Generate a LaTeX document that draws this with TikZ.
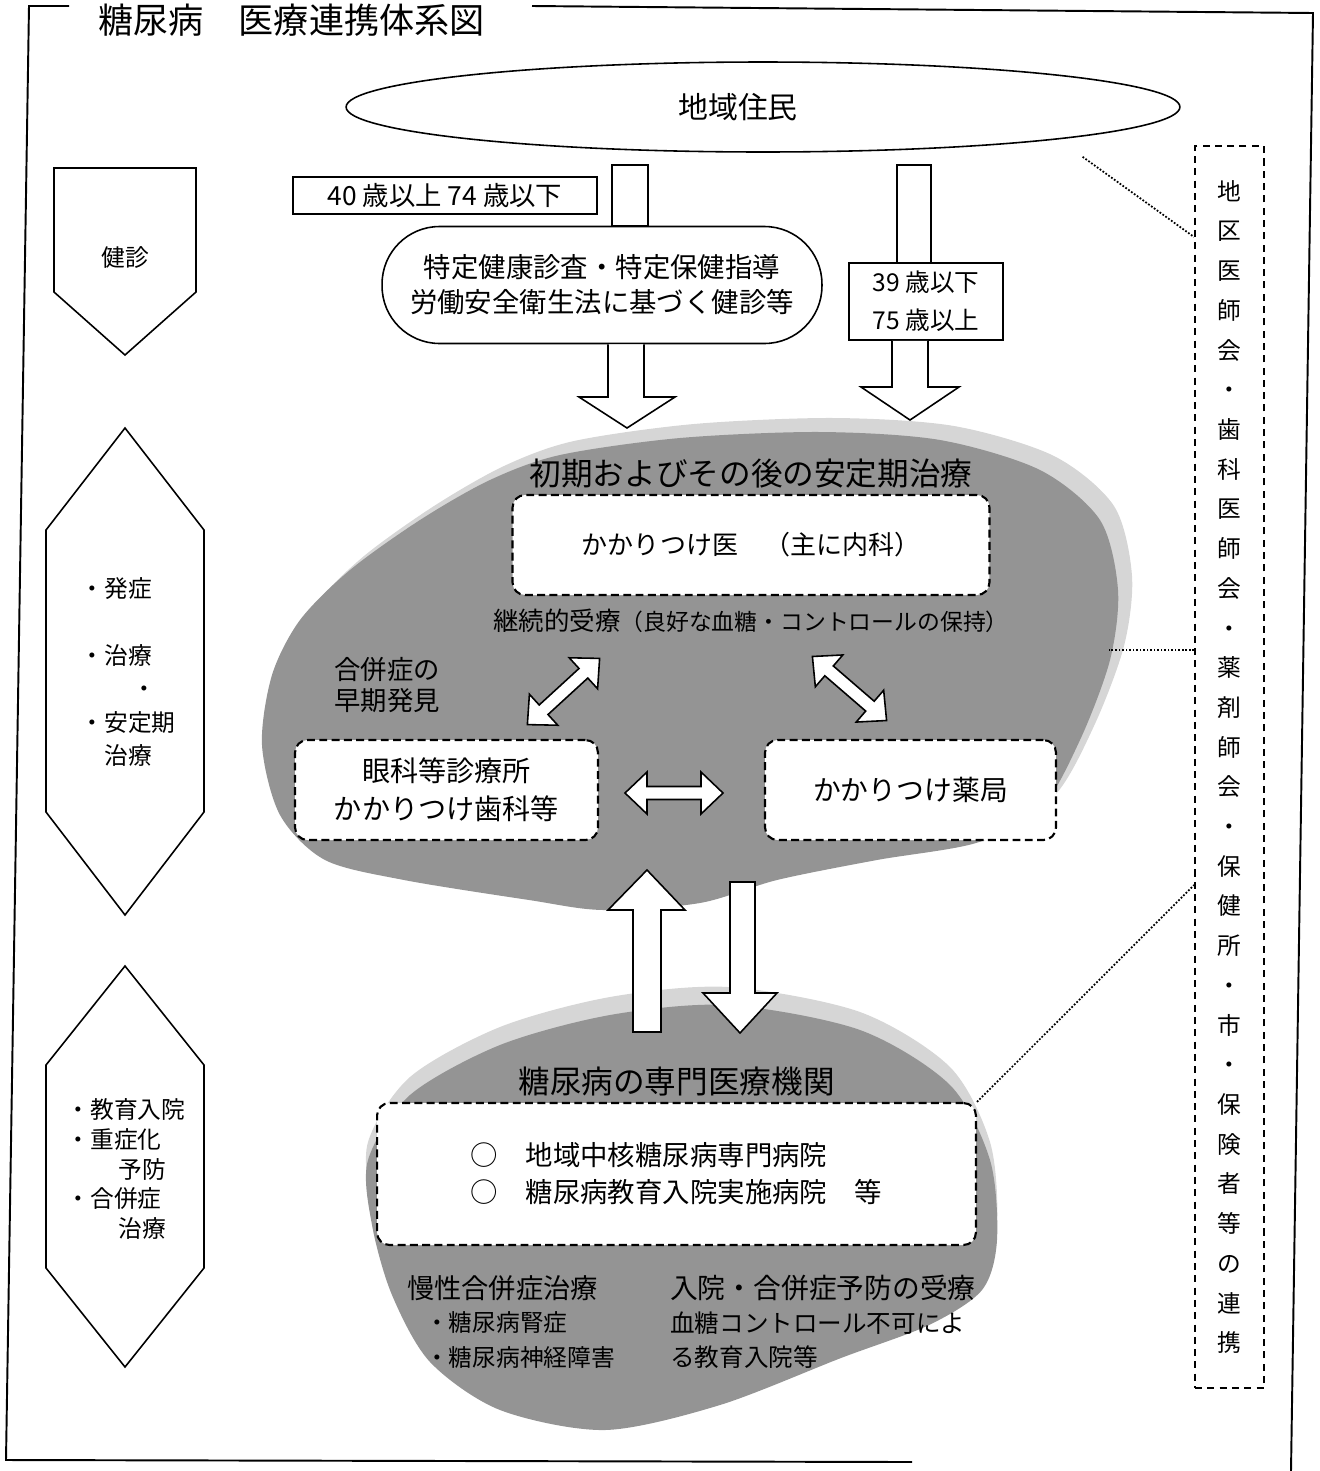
\documentclass[tikz,border=0pt]{standalone}
\usepackage{fontspec}
\setmainfont{Noto Sans CJK JP}
\usetikzlibrary{shapes, arrows, positioning}
\tikzstyle{waku} = [line width=1.1pt]
\tikzstyle{daen} = [draw, ellipse, line width=0.9pt, minimum width=16.68cm, minimum height=1.8cm, font=\fontsize{17}{20}\selectfont]
\tikzstyle{nenrei} = [draw, rectangle, line width=1.1pt, fill=white, align=center]
\tikzstyle{kapuseru} = [draw, rectangle, rounded corners=1.15cm, line width=0.9pt, fill=white, align=center, font=\fontsize{15.6}{19.9}\selectfont]
\tikzstyle{yajirushi} = [draw, fill=white, line width=0.9pt]
\tikzstyle{hako} = [draw, rectangle, rounded corners=0.25cm, dash pattern=on 4.5pt off 2.5pt, line width=1.2pt, fill=white, align=center]
\tikzstyle{midashi} = [font=\fontsize{18}{22}\selectfont]
\tikzstyle{kumo} = [fill=black!42]
\tikzstyle{kasumi} = [fill=black!16]
\tikzstyle{dankai} = [draw, line width=0.9pt, line join=miter]
\tikzstyle{dankaimoji} = [align=left, font=\fontsize{13.5}{17}\selectfont]
\tikzstyle{renkeisen} = [densely dotted, line width=1pt]
\newcommand{\ryoho}[2]{%
	\draw[yajirushi, shift={#1}, rotate=#2] (-49,0) -- (-27,-21) -- (-27,-6.5) -- (27,-6.5) -- (27,-21) -- (49,0) -- (27,21) -- (27,6.5) -- (-27,6.5) -- (-27,21) -- cycle;}

\begin{document}
\begin{tikzpicture}[x=0.02cm, y=-0.02cm]
	\useasboundingbox (0,0) rectangle (1319,1471);
	% gray areas
	\fill[kasumi, shift={(14,-14)}] plot[smooth cycle] coordinates {(560,455) (680,438) (820,432) (940,440) (1040,470) (1100,520) (1118,590) (1110,660) (1080,740) (1040,810) (976,843) (877,860) (777,880) (700,903) (603,910) (529,900) (404,880) (325,860) (280,815) (262,745) (272,675) (300,620) (350,570) (420,520) (490,480)};
	\fill[kumo] plot[smooth cycle] coordinates {(560,455) (680,438) (820,432) (940,440) (1040,470) (1100,520) (1118,590) (1110,660) (1080,740) (1040,810) (976,843) (877,860) (777,880) (700,903) (603,910) (529,900) (404,880) (325,860) (280,815) (262,745) (272,675) (300,620) (350,570) (420,520) (490,480)};
	\fill[kasumi, shift={(0,-18)}] plot[smooth cycle] coordinates {(728,1005) (860,1030) (950,1085) (990,1160) (997,1240) (982,1290) (929,1325) (841,1358) (720,1405) (605,1430) (500,1410) (430,1362) (392,1295) (372,1225) (368,1160) (410,1095) (500,1045) (610,1015)};
	\fill[kumo] plot[smooth cycle] coordinates {(728,1005) (860,1030) (950,1085) (990,1160) (997,1240) (982,1290) (929,1325) (841,1358) (720,1405) (605,1430) (500,1410) (430,1362) (392,1295) (372,1225) (368,1160) (410,1095) (500,1045) (610,1015)};

	% frame
	\draw[waku] (69,6) -- (29,6) -- (6,1460) -- (912,1462);
	\draw[waku] (532,6) -- (1313,13) -- (1291,1471);
	\node[anchor=west, font=\fontsize{20}{24}\selectfont] (daimei) at (92,20) {糖尿病　医療連携体系図};

	% left column
	\draw[dankai] (54,168) -- (196,168) -- (196,292) -- (125,355) -- (54,292) -- cycle;
	\node[dankaimoji] (kenshin) at (125,258) {健診};
	\draw[dankai] (125,428) -- (204,530) -- (204,812) -- (125,915) -- (46,812) -- (46,530) -- cycle;
	\node[dankaimoji, font=\fontsize{13.5}{19}\selectfont] (hassho) at (128,672) {・発症\\[19pt]・治療\\\hspace*{2.2em}・\\・安定期\\\hspace*{1em}治療};
	\draw[dankai] (125,966) -- (204,1065) -- (204,1268) -- (125,1367) -- (46,1268) -- (46,1065) -- cycle;
	\node[dankaimoji] (kyoiku) at (126,1169) {・教育入院\\・重症化\\\hspace*{2.2em}予防\\・合併症\\\hspace*{2.2em}治療};

	% kenshin
	\node[daen] (jumin) at (763,107) {地域住民\hspace*{1cm}};
	\node[nenrei, minimum width=6.08cm, minimum height=0.74cm, font=\fontsize{15}{18}\selectfont] (nenrei1) at (445,195.5) {40 歳以上 74 歳以下};
	\draw[yajirushi] (612,165) rectangle (648,226);
	\node[kapuseru, minimum width=8.8cm, minimum height=2.34cm] (tokutei) at (602,285) {特定健康診査・特定保健指導\\労働安全衛生法に基づく健診等};
	\draw[yajirushi] (608,0 |- tokutei.south) -- (608,397) -- (579,397) -- (627,428) -- (675,397) -- (644,397) -- (644,0 |- tokutei.south);
	\draw[yajirushi] (897,165) rectangle (931,263);
	\node[nenrei, minimum width=3.08cm, minimum height=1.54cm, font=\fontsize{14}{21.6}\selectfont] (nenrei2) at (926,301.5) {39 歳以下\\75 歳以上};
	\draw[yajirushi] (892,0 |- nenrei2.south) -- (892,387) -- (861,387) -- (910,420) -- (959,387) -- (928,387) -- (928,0 |- nenrei2.south);

	% antei
	\node[hako, minimum width=9.54cm, minimum height=2cm, font=\fontsize{14.8}{18}\selectfont] (kakari) at (751,545) {かかりつけ医　（主に内科）};
	\node[midashi, above=0pt] (shoki) at (kakari.north) {初期およびその後の安定期治療};
	\node[below=4pt] (keizoku) at (kakari.south) {{\fontsize{14.5}{17}\selectfont 継続的受療}{\fontsize{13}{15}\selectfont （良好な血糖・コントロールの保持）}};
	\node[align=center, font=\fontsize{15}{17.5}\selectfont] (gappei) at (387,685) {合併症の\\早期発見};
	\node[hako, minimum width=6.06cm, minimum height=2cm, font=\fontsize{16}{21.6}\selectfont] (ganka) at (446.5,790) {眼科等診療所\\かかりつけ歯科等};
	\node[hako, minimum width=5.82cm, minimum height=2cm, font=\fontsize{15.8}{19}\selectfont] (yakkyoku) at (910.5,790) {かかりつけ薬局};
	\ryoho{(563.5,691.5)}{42.5}
	\ryoho{(849.5,688.5)}{-40.8}
	\ryoho{(674,793)}{0}
	\draw[yajirushi] (633,1032) -- (633,910) -- (608,910) -- (647,870) -- (685,910) -- (661,910) -- (661,1032) -- cycle;
	\draw[yajirushi] (730,882) -- (730,993) -- (703,993) -- (740,1033) -- (777,993) -- (755,993) -- (755,882) -- cycle;

	% senmon
	\node[hako, minimum width=11.98cm, minimum height=2.84cm, align=left, font=\fontsize{15.6}{21}\selectfont] (senmon) at (676.5,1174) {○　地域中核糖尿病専門病院\\○　糖尿病教育入院実施病院　等};
	\node[midashi, above=0pt] (senmonmei) at (senmon.north) {糖尿病の専門医療機関};
	\node[anchor=west, font=\fontsize{15.5}{18}\selectfont] (mansei) at (401,1288) {慢性合併症治療};
	\node[anchor=west, align=left, font=\fontsize{13.5}{19.5}\selectfont] (mansei2) at (419,1340) {・糖尿病腎症\\・糖尿病神経障害};
	\node[anchor=west, font=\fontsize{15.8}{18}\selectfont] (nyuin) at (664,1288) {入院・合併症予防の受療};
	\node[anchor=west, align=left, font=\fontsize{14}{19.5}\selectfont] (nyuin2) at (664,1340) {血糖コントロール不可によ\\る教育入院等};

	% renkei
	\node[draw, dash pattern=on 4pt off 3pt, line width=1.1pt, minimum width=1.38cm, minimum height=24.84cm, align=center, font=\fontsize{13.5}{22.6}\selectfont] (renkei) at (1229.5,767) {地\\区\\医\\師\\会\\・\\歯\\科\\医\\師\\会\\・\\薬\\剤\\師\\会\\・\\保\\健\\所\\・\\市\\・\\保\\険\\者\\等\\の\\連\\携};
	\draw[renkeisen, shorten <=17pt] (jumin.south east) -- (renkei.west |- 0,237);
	\draw[renkeisen] (renkei.west |- 0,650) -- ++(-85,0);
	\draw[renkeisen] (senmon.north east) -- (renkei.west |- 0,885);
\end{tikzpicture}
\end{document}
